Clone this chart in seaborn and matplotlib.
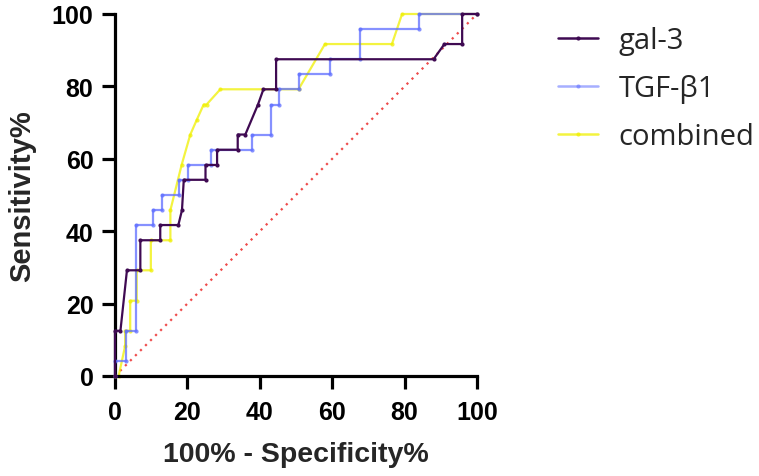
import numpy as np
import pandas as pd
import matplotlib
matplotlib.use("Agg")
import matplotlib.pyplot as plt
import seaborn as sns
from matplotlib.lines import Line2D

# ---- data ----
gal3_x = [0, 0, 1.5, 3.3, 7, 7, 12.5, 12.5, 17.5, 18.5, 19, 25, 25, 28.2, 28.2, 33.9, 33.9,
          36, 39.5, 41, 44.5, 44.5, 88, 91, 95.9, 95.9, 100]
gal3_y = [0, 12.5, 12.5, 29.2, 29.2, 37.5, 37.5, 41.7, 41.7, 45.8, 54.2, 54.2, 58.3, 58.3, 62.5, 62.5, 66.7,
          66.7, 75, 79.2, 79.2, 87.5, 87.5, 91.7, 91.7, 100, 100]

tgf_x = [0, 0, 3.1, 3.1, 5.9, 5.9, 10.6, 10.6, 13, 13, 17.6, 17.6, 20.3, 20.3, 26.5, 26.5, 37.8, 37.8,
         43.2, 43.2, 45.2, 45.2, 50.7, 50.7, 59.5, 59.5, 67.7, 67.7, 83.9, 83.9, 100]
tgf_y = [0, 4.2, 4.2, 12.5, 12.5, 41.7, 41.7, 45.8, 45.8, 50, 50, 54.2, 54.2, 58.3, 58.3, 62.5, 62.5, 66.7,
         66.7, 75, 75, 79.2, 79.2, 83.3, 83.3, 87.5, 87.5, 95.8, 95.8, 100, 100]

comb_x = [0, 1, 2.8, 2.8, 4.2, 4.2, 6, 6, 9.9, 9.9, 15.3, 15.3, 18.4, 20.8, 22.6, 24.5, 25.3, 29.1,
          50.7, 58, 76.5, 79.3, 100]
comb_y = [0, 0, 8.3, 12.5, 12.5, 20.8, 20.8, 29.2, 29.2, 37.5, 37.5, 45.8, 58.3, 66.7, 70.8, 75, 75, 79.2,
          79.2, 91.7, 91.7, 100, 100]

labels = ["gal-3", "TGF-\u03b21", "combined"]
ticks = [0, 20, 40, 60, 80, 100]

df = pd.concat([
    pd.DataFrame({"x": gal3_x, "y": gal3_y, "curve": labels[0]}),
    pd.DataFrame({"x": tgf_x, "y": tgf_y, "curve": labels[1]}),
    pd.DataFrame({"x": comb_x, "y": comb_y, "curve": labels[2]}),
])

sns.set_style("ticks")
plt.rcParams["font.family"] = ["Liberation Sans", "DejaVu Sans"]

fig = plt.figure(figsize=(7.59, 4.77), dpi=100)
ax = fig.add_axes([115 / 759, 1 - 377 / 477, 362 / 759, 362 / 477])

colors = {labels[0]: "#3f0a52", labels[1]: "#5d6dff", labels[2]: "#f0f000"}
alphas = {labels[0]: 1.0, labels[1]: 0.75, labels[2]: 0.75}
zord = {labels[0]: 4, labels[1]: 3, labels[2]: 2}

# diagonal reference line
ax.plot([0, 100], [0, 100], color="#ee4a4a", linestyle=(0, (1, 2.2)), lw=1.6, zorder=1)

for lab in [labels[2], labels[1], labels[0]]:
    sub = df[df["curve"] == lab]
    sns.lineplot(data=sub, x="x", y="y", sort=False, estimator=None, ax=ax,
                 color=colors[lab], alpha=alphas[lab], lw=1.6, marker="o", markersize=3,
                 markeredgewidth=0, zorder=zord[lab], legend=False)

ax.set_xlim(0, 100)
ax.set_ylim(0, 100)
ax.set_xticks(ticks)
ax.set_yticks(ticks)
ax.set_xticklabels([str(t) for t in ticks], fontweight="bold", fontsize=18)
ax.set_yticklabels([str(t) for t in ticks], fontweight="bold", fontsize=18)
ax.margins(0)
for s in ["top", "right"]:
    ax.spines[s].set_visible(False)
for s in ["left", "bottom"]:
    ax.spines[s].set_linewidth(2.3)
    ax.spines[s].set_color("black")
    ax.spines[s].set_clip_on(False)
ax.tick_params(axis="both", length=9.5, width=2.3, colors="black")
ax.tick_params(axis="x", pad=8)
ax.tick_params(axis="y", pad=6)
ax.set_xlabel("100% - Specificity%", fontsize=20.5, fontweight="bold", labelpad=12)
ax.set_ylabel("Sensitivity%", fontsize=21, fontweight="bold", labelpad=11)
for ln in ax.lines:
    ln.set_clip_on(False)

# legend
handles = [Line2D([], [], color=colors[l], alpha=alphas[l] if l != labels[1] else 0.55,
                  lw=1.8, marker="o", markersize=3, markeredgewidth=0) for l in labels]
leg = fig.legend(handles, labels, loc="upper left", bbox_to_anchor=(558 / 759, 1 - 27 / 477),
                 frameon=False, handlelength=1.38, handletextpad=0.7,
                 labelspacing=0.65, borderpad=0, borderaxespad=0,
                 prop={"family": ["Open Sans", "DejaVu Sans"], "size": 21})

fig.savefig("out.png", dpi=100)
